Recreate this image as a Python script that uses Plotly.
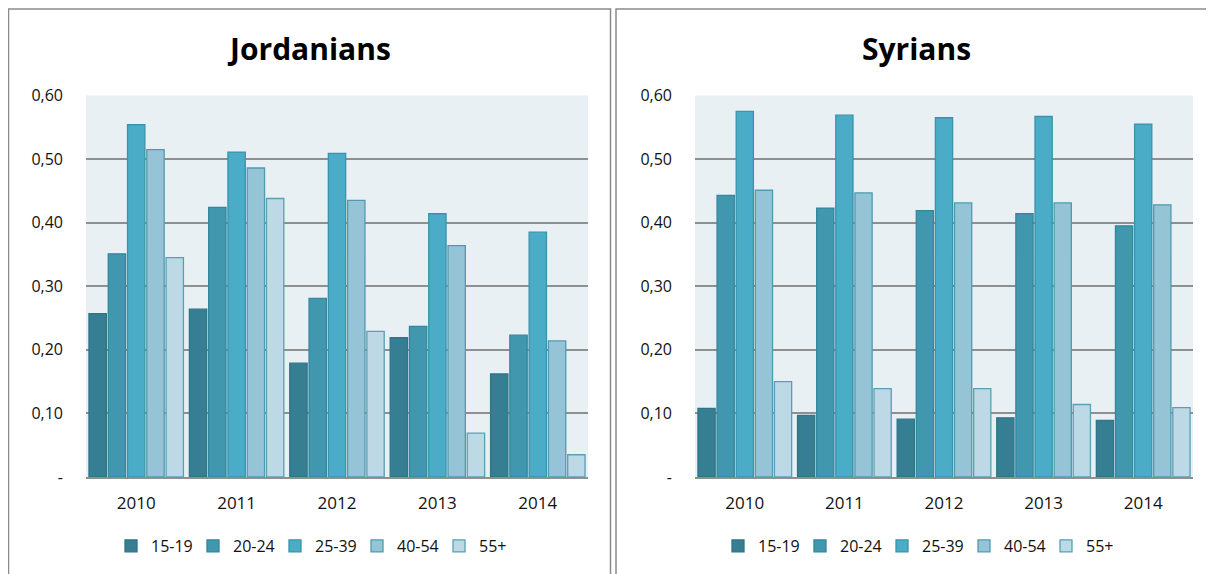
import plotly.graph_objects as go

years = ['2010', '2011', '2012', '2013', '2014']
age_groups = ['15-19', '20-24', '25-39', '40-54', '55+']

# share by age group, one list per group (2010..2014)
jordanians = {
    '15-19': [0.257, 0.264, 0.179, 0.219, 0.162],
    '20-24': [0.351, 0.424, 0.281, 0.237, 0.223],
    '25-39': [0.554, 0.511, 0.509, 0.414, 0.385],
    '40-54': [0.515, 0.486, 0.435, 0.364, 0.214],
    '55+':   [0.345, 0.438, 0.229, 0.069, 0.035],
}
syrians = {
    '15-19': [0.108, 0.097, 0.091, 0.093, 0.089],
    '20-24': [0.443, 0.423, 0.419, 0.414, 0.395],
    '25-39': [0.575, 0.569, 0.565, 0.567, 0.555],
    '40-54': [0.451, 0.447, 0.431, 0.431, 0.428],
    '55+':   [0.150, 0.139, 0.139, 0.114, 0.109],
}

y_ticks = [0, 0.1, 0.2, 0.3, 0.4, 0.5, 0.6]
y_ticktext = ['-', '0,10', '0,20', '0,30', '0,40', '0,50', '0,60']

fill_colors = ['#367f93', '#4097ae', '#4aacc6', '#95c4d6', '#bcd9e5']
edge_colors = ['#2f7487', '#34869d', '#3a93ab', '#4f9ab0', '#5a9fb4']

W, H = 1214, 574
OFF = 8  # page body margin in the browser
FONT = 'Open Sans'

fig = go.Figure()

for i, ag in enumerate(age_groups):
    for data, xa, ya, leg in [(jordanians, 'x', 'y', 'legend'), (syrians, 'x2', 'y2', 'legend2')]:
        fig.add_trace(go.Bar(
            x=years, y=data[ag], name=ag,
            xaxis=xa, yaxis=ya, legend=leg,
            marker=dict(color=fill_colors[i], line=dict(color=edge_colors[i], width=1.3)),
        ))

# helpers: screen pixel -> paper fraction
def px(x):
    return (x - OFF) / W

def py(y):
    return 1 - (y - OFF) / H

axis_common_y = dict(
    range=[0, 0.6], tickvals=y_ticks, ticktext=y_ticktext,
    showgrid=True, gridcolor='#8f8f8f', gridwidth=1.5,
    zeroline=False, showline=False, ticks='', ticklabelstandoff=22,
    tickfont=dict(family=FONT, size=16, color='#111'),
    domain=[py(477), py(95.5)],
)
axis_common_x = dict(
    showline=True, linecolor='#8f8f8f', linewidth=2,
    ticks='', ticklabelstandoff=10,
    tickfont=dict(family=FONT, size=17, color='#111'),
)

legend_common = dict(
    orientation='h', xanchor='left', yanchor='middle',
    font=dict(family=FONT, size=16, color='#111'),
    itemwidth=30, entrywidth=37, bgcolor='rgba(0,0,0,0)', traceorder='normal',
)

fig.update_layout(
    width=W, height=H,
    margin=dict(l=0, r=0, t=0, b=0, pad=0, autoexpand=False),
    paper_bgcolor='white', plot_bgcolor='#e8f0f4',
    barmode='group', bargap=0.04, bargroupgap=0.1,
    showlegend=True,
    xaxis=dict(domain=[px(86), px(588)], anchor='y', **axis_common_x),
    yaxis=dict(anchor='x', **axis_common_y),
    xaxis2=dict(domain=[px(695), px(1193)], anchor='y2', **axis_common_x),
    yaxis2=dict(anchor='x2', **axis_common_y),
    legend=dict(x=px(111), y=py(546), **legend_common),
    legend2=dict(x=px(718), y=py(546), **legend_common),
    shapes=[
        dict(type='rect', xref='paper', yref='paper', x0=px(8.5), x1=px(610.5), y0=py(9), y1=py(590),
             line=dict(color='#8a8a8a', width=1.5)),
        dict(type='rect', xref='paper', yref='paper', x0=px(616), x1=px(1230), y0=py(9), y1=py(590),
             line=dict(color='#8a8a8a', width=1.5)),
    ],
    annotations=[
        dict(text='<b>Jordanians</b>', xref='paper', yref='paper', x=px(309), y=py(49),
             xanchor='center', yanchor='middle', showarrow=False,
             font=dict(family=FONT, size=30, color='#000')),
        dict(text='<b>Syrians</b>', xref='paper', yref='paper', x=px(916), y=py(49),
             xanchor='center', yanchor='middle', showarrow=False,
             font=dict(family=FONT, size=30, color='#000')),
    ],
)

fig.write_html('out.html')
